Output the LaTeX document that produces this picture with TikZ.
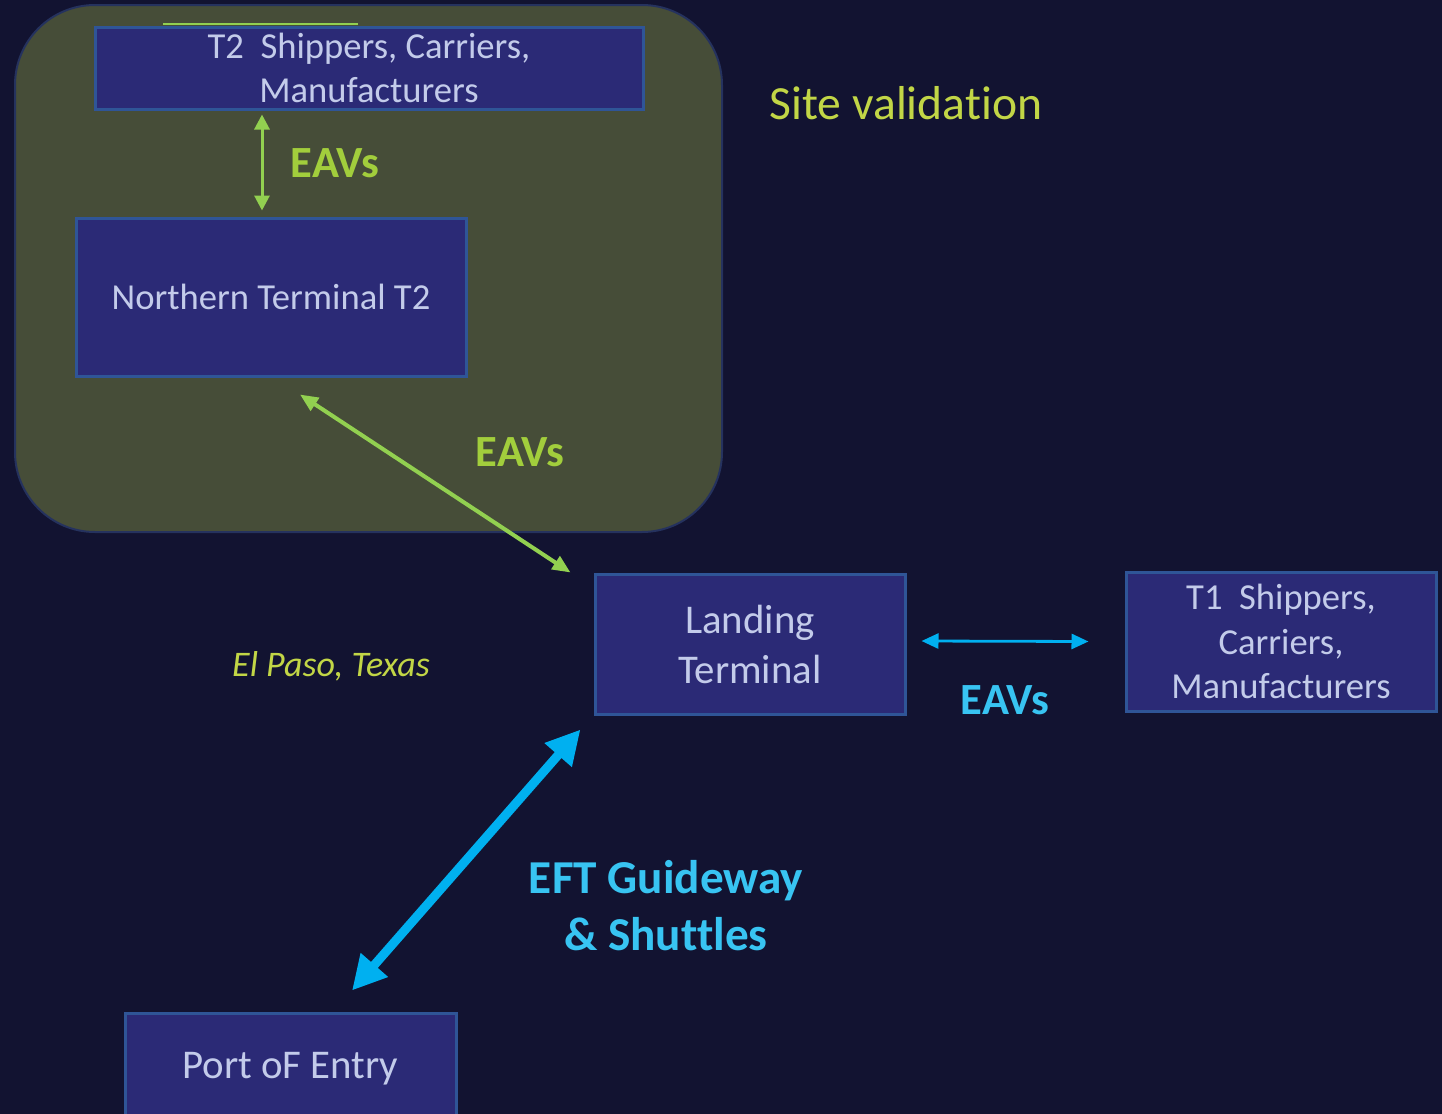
\documentclass[tikz,border=0pt]{standalone}
\usepackage{fontspec}
\setmainfont{Carlito}[Ligatures=NoCommon]
\usetikzlibrary{arrows.meta}
\definecolor{nightsky}{HTML}{121331}
\definecolor{siteolive}{HTML}{464D38}
\definecolor{siteedge}{HTML}{25325E}
\definecolor{boxfill}{HTML}{2B2A76}
\definecolor{boxedge}{HTML}{2F5597}
\definecolor{boxtext}{HTML}{C3CBEA}
\definecolor{eavgreen}{HTML}{92D050}
\definecolor{eavtext}{HTML}{A2CE3C}
\definecolor{sitetext}{HTML}{C2D646}
\definecolor{eftblue}{HTML}{00B0F0}
\definecolor{efttext}{HTML}{38C4F2}

\begin{document}
\begin{tikzpicture}[x=0.5pt,y=-0.5pt,
		terminal/.style={draw=boxedge,fill=boxfill,line width=1.5pt,text=boxtext,align=center,inner sep=0pt},
		greenlabel/.style={text=eavtext,font=\bfseries\fontsize{22.3}{26}\selectfont},
		bluelabel/.style={text=efttext,font=\bfseries\fontsize{23.6}{28.5}\selectfont,align=center},
		eavarrow/.style={eavgreen,line width=1.5pt,{Triangle[length=7.5pt,width=7.5pt]}-{Triangle[length=7.5pt,width=7.5pt]}},
		eavdiag/.style={eavgreen,line width=2pt,{Triangle[length=9pt,width=7.5pt]}-{Triangle[length=9pt,width=7.5pt]}},
		eavblue/.style={eftblue,line width=1.4pt,{Triangle[length=8.5pt,width=7.5pt]}-{Triangle[length=8.5pt,width=7.5pt]}},
		eftline/.style={eftblue,line width=4.5pt,{Triangle[length=17pt,width=17pt]}-{Triangle[length=17pt,width=17pt]}}]
		\useasboundingbox (0,0) rectangle (1442,1114);
		\clip (0,0) rectangle (1442,1114);
		\fill[nightsky] (0,0) rectangle (1442,1114);
		
		% site validation area
		\draw[siteedge,fill=siteolive,line width=1pt,rounded corners=40pt] (15,5) rectangle (722,532);
		\draw[eavgreen,line width=0.8pt] (163,24) -- (358,24);
		
		\node[terminal,minimum width=274pt,minimum height=41pt,font=\fontsize{18.3}{22}\selectfont] (t2) at (369,68) {T2\ \ Shippers, Carriers,\\Manufacturers};
		\node[terminal,minimum width=195pt,minimum height=79pt,font=\fontsize{18.3}{22}\selectfont] (nt2) at (271,297) {Northern Terminal T2};
		\node[terminal,minimum width=155pt,minimum height=70pt,font=\fontsize{20.4}{25}\selectfont] (landing) at (750,644) {Landing\\Terminal};
		\node[terminal,minimum width=155pt,minimum height=69.5pt,font=\fontsize{18.3}{22.25}\selectfont] (t1) at (1281,641.5) {T1\ \ Shippers,\\Carriers,\\Manufacturers};
		\node[terminal,minimum width=165.5pt,minimum height=56pt,font=\fontsize{20.4}{25}\selectfont] (port) at (290.5,1069) {Port oF Entry};
		
		\node[text=sitetext,font=\fontsize{23.8}{28}\selectfont] (sitelabel) at (906,103) {Site validation};
		\node[text=sitetext,font=\itshape\fontsize{18}{22}\selectfont] (elpaso) at (331,666) {El Paso, Texas};
		
		\node[greenlabel] (eavtop) at (335,163) {EAVs};
		\node[greenlabel] (eavmid) at (520,452) {EAVs};
		\node[greenlabel,text=efttext] (eavright) at (1005,700) {EAVs};
		\node[bluelabel] (eftlabel) at (666,906) {EFT Guideway\\\& Shuttles};
		
		\draw[eavarrow] ([xshift=-53.5pt,yshift=-2pt]t2.south) -- ([xshift=-4.5pt,yshift=3pt]nt2.north);
		\draw[eavdiag] ([xshift=14.5pt,yshift=-8.5pt]nt2.south) -- ([xshift=-11.5pt]landing.north west);
		\draw[eavblue] ([xshift=7.5pt,yshift=1.5pt]landing.east) -- ([xshift=-18pt]t1.west);
		\draw[eftline] ([xshift=30.75pt,yshift=10.5pt]port.north) -- ([xshift=-6.5pt,yshift=-7pt]landing.south west);
	\end{tikzpicture}
\end{document}
